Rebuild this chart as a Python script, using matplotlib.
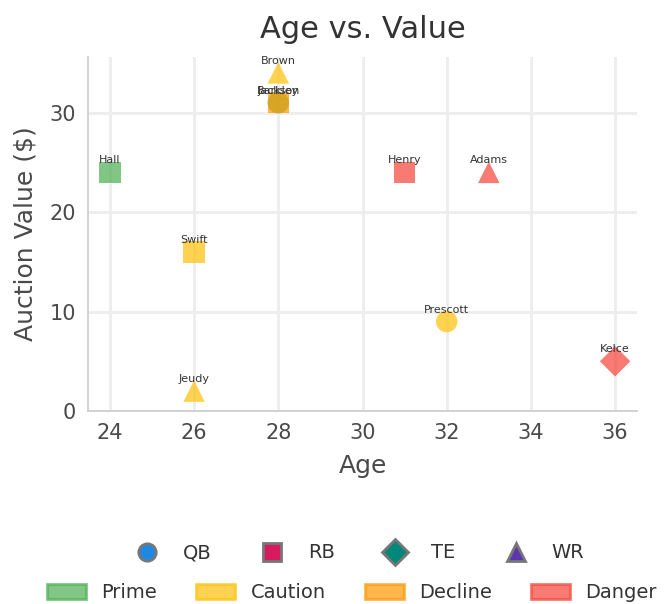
import numpy as np
import matplotlib
matplotlib.use('Agg')
import matplotlib.pyplot as plt
from matplotlib.lines import Line2D
from matplotlib.patches import Patch

# player data
names     = ['Jackson', 'Prescott', 'Hall', 'Swift', 'Barkley', 'Henry', 'Kelce', 'Jeudy', 'Brown', 'Adams']
ages      = [28, 32, 24, 26, 28, 31, 36, 26, 28, 33]
values    = [31, 9, 24, 16, 31, 24, 5, 2, 34, 24]
positions = ['QB', 'QB', 'RB', 'RB', 'RB', 'RB', 'TE', 'WR', 'WR', 'WR']
tiers     = ['Prime', 'Caution', 'Prime', 'Caution', 'Decline', 'Danger', 'Danger', 'Caution', 'Caution', 'Danger']

tier_names   = ['Prime', 'Caution', 'Decline', 'Danger']
tier_colors  = {'Prime': '#4CAF50', 'Caution': '#FFC107', 'Decline': '#FF9800', 'Danger': '#F44336'}
pos_names    = ['QB', 'RB', 'TE', 'WR']
pos_markers  = {'QB': 'o', 'RB': 's', 'TE': 'D', 'WR': '^'}
pos_colors   = {'QB': '#1E88E5', 'RB': '#D81B60', 'TE': '#00897B', 'WR': '#5E35B1'}

plt.rcParams['font.family'] = ['DejaVu Sans']
fig = plt.figure(figsize=(6.64, 6.04), dpi=100)
ax = fig.add_axes([88/664, 1 - 411/604, (637-88)/664, (411-57)/604])

for n, a, v, p, t in zip(names, ages, values, positions, tiers):
    ax.scatter(a, v, s=240, marker=pos_markers[p], color=tier_colors[t],
               alpha=0.7, edgecolors='none', zorder=3)
    ax.annotate(n, (a, v), xytext=(0, 5), textcoords='offset points',
                ha='center', va='bottom', fontsize=8, color='#333333', zorder=4)

ax.set_xlim(23.48, 36.52)
ax.set_ylim(0, 35.6)
ax.set_xticks([24, 26, 28, 30, 32, 34, 36])
ax.set_yticks([0, 10, 20, 30])
ax.grid(True, color='#ededed', linewidth=2)
ax.set_axisbelow(True)
for s in ['top', 'right']:
    ax.spines[s].set_visible(False)
for s in ['left', 'bottom']:
    ax.spines[s].set_color('#cccccc')
    ax.spines[s].set_linewidth(1.2)
ax.tick_params(labelsize=15, colors='#4a4a4a', length=0, pad=8.5)
ax.set_xlabel('Age', fontsize=18, color='#4a4a4a', labelpad=8)
ax.set_ylabel('Auction Value ($)', fontsize=18, color='#4a4a4a', labelpad=9)
ax.set_title('Age vs. Value', fontsize=22, color='#333333', pad=14)

pos_handles = [Line2D([0], [0], marker=pos_markers[p], linestyle='none',
                      markerfacecolor=pos_colors[p], markeredgecolor='#777777',
                      markeredgewidth=2, markersize=12.5 if p != 'TE' else 13, label=p)
               for p in pos_names]
leg1 = fig.legend(handles=pos_handles, loc='center', bbox_to_anchor=(356/664, 1 - 553/604),
                  ncol=4, frameon=False, fontsize=14, handlelength=2, handletextpad=0.85,
                  columnspacing=2.1, borderpad=0)
for txt in leg1.get_texts():
    txt.set_color('#333333')

tier_handles = [Patch(facecolor=tier_colors[t], edgecolor=tier_colors[t], alpha=0.7,
                      linewidth=2, label=t) for t in tier_names]
leg2 = fig.legend(handles=tier_handles, loc='center', bbox_to_anchor=(352/664, 1 - 593/604),
                  ncol=4, frameon=False, fontsize=14, handlelength=2, handleheight=0.8,
                  handletextpad=0.8, columnspacing=2.0, borderpad=0)
for txt in leg2.get_texts():
    txt.set_color('#333333')

fig.savefig('out.png', dpi=100)
